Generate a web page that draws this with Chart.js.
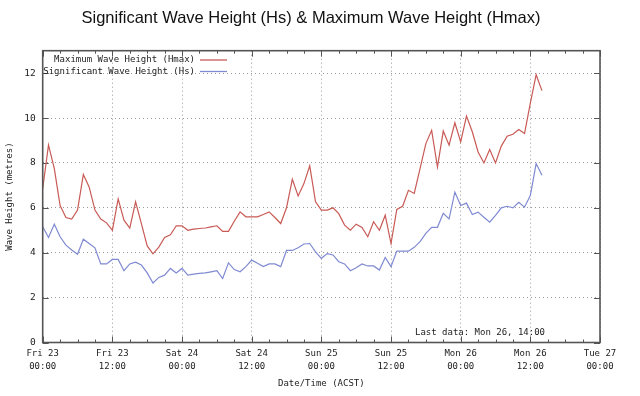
<!DOCTYPE html>
<html>
<head>
<meta charset="utf-8">
<script src="https://cdn.jsdelivr.net/npm/chart.js@4.4.1/dist/chart.umd.min.js"></script>
<style>
  html, body { margin: 0; padding: 0; background: #fff; }
  #wrap { width: 640px; height: 396px; }
</style>
</head>
<body>
<div id="wrap"><canvas id="waves" width="640" height="396"></canvas></div>
<script>
// hourly readings starting Fri 23 00:00 (ACST)
const hmax = [6.85, 8.8, 7.75, 6.1, 5.57, 5.5, 5.9, 7.48, 6.93, 5.9, 5.5, 5.33,
    5.0, 6.4, 5.45, 5.1, 6.27, 5.3, 4.3, 3.95, 4.25, 4.68, 4.8, 5.2,
    5.2, 5.0, 5.05, 5.08, 5.1, 5.15, 5.2, 4.95, 4.95, 5.4, 5.82, 5.6,
    5.6, 5.6, 5.7, 5.82, 5.57, 5.3, 6.0, 7.27, 6.53, 7.08, 7.87, 6.27,
    5.9, 5.9, 6.0, 5.74, 5.23, 5.0, 5.27, 5.13, 4.71, 5.38, 5.0, 5.67,
    4.41, 5.93, 6.07, 6.78, 6.64, 7.75, 8.86, 9.45, 7.82, 9.42, 8.79, 9.79,
    8.94, 10.09, 9.39, 8.49, 8.0, 8.6, 8.0, 8.75, 9.19, 9.28, 9.49, 9.31,
    10.66, 11.93, 11.22];
const hs = [5.16, 4.68, 5.27, 4.71, 4.34, 4.12, 3.93, 4.6, 4.41, 4.22, 3.5, 3.5,
    3.7, 3.7, 3.2, 3.5, 3.58, 3.45, 3.1, 2.65, 2.9, 3.0, 3.3, 3.1,
    3.3, 3.0, 3.05, 3.08, 3.1, 3.15, 3.2, 2.85, 3.55, 3.25, 3.15, 3.38,
    3.67, 3.53, 3.38, 3.5, 3.5, 3.38, 4.1, 4.1, 4.22, 4.39, 4.41, 4.04,
    3.75, 3.96, 3.9, 3.6, 3.5, 3.2, 3.33, 3.5, 3.41, 3.41, 3.23, 3.79,
    3.38, 4.07, 4.07, 4.07, 4.24, 4.49, 4.86, 5.13, 5.13, 5.76, 5.51, 6.7,
    6.1, 6.21, 5.7, 5.81, 5.58, 5.36, 5.66, 6.0, 6.07, 6.0, 6.25, 6.03,
    6.55, 7.97, 7.45];
const xTickLabels = [["Fri 23", "00:00"], ["Fri 23", "12:00"], ["Sat 24", "00:00"],
    ["Sat 24", "12:00"], ["Sun 25", "00:00"], ["Sun 25", "12:00"],
    ["Mon 26", "00:00"], ["Mon 26", "12:00"], ["Tue 27", "00:00"]];
const yTickValues = [0, 2, 4, 6, 8, 10, 12];
const seriesLabels = ["Maximum Wave Height (Hmax)", "Significant Wave Height (Hs)"];
const chartTitle = "Significant Wave Height (Hs) & Maximum Wave Height (Hmax)";
const lastDataText = "Last data: Mon 26, 14:00";

const MONO = "'DejaVu Sans Mono', 'Liberation Mono', monospace";
const RED = "#c85a55";
const BLUE = "#7f8ad2";

// gnuplot style border, inward ticks, title, legend and note
const frame = {
    id: "frame",
    beforeDatasetsDraw(chart) {
        const { ctx, chartArea: a, scales } = chart;
        ctx.save();
        ctx.strokeStyle = "#555";
        ctx.lineWidth = 1;
        // x ticks: major every 12h, minor every 3h
        for (let h = 0; h <= 96; h += 3) {
            const x = Math.round(scales.x.getPixelForValue(h)) + 0.5;
            const len = h % 12 === 0 ? 6 : 3;
            ctx.beginPath();
            ctx.moveTo(x, a.bottom); ctx.lineTo(x, a.bottom - len);
            ctx.moveTo(x, a.top); ctx.lineTo(x, a.top + len);
            ctx.stroke();
        }
        yTickValues.forEach(v => {
            const y = Math.round(scales.y.getPixelForValue(v)) + 0.5;
            ctx.beginPath();
            ctx.moveTo(a.left, y); ctx.lineTo(a.left + 6, y);
            ctx.moveTo(a.right, y); ctx.lineTo(a.right - 6, y);
            ctx.stroke();
        });
        ctx.restore();
    },
    afterDatasetsDraw(chart) {
        const { ctx, chartArea: a } = chart;
        ctx.save();
        ctx.strokeStyle = "#555";
        ctx.lineWidth = 1.6;
        ctx.strokeRect(a.left, a.top, a.right - a.left, a.bottom - a.top);

        ctx.fillStyle = "#111";
        ctx.textAlign = "center";
        ctx.textBaseline = "middle";
        ctx.font = "16.5px 'Liberation Sans', Arial, sans-serif";
        ctx.fillText(chartTitle, 311, 18);

        ctx.font = "9px " + MONO;
        ctx.fillStyle = "#222";
        chart.data.datasets.forEach((ds, i) => {
            const y = 60 + i * 11.5;
            ctx.textAlign = "right";
            ctx.fillText(ds.label, 195, y);
            ctx.strokeStyle = ds.borderColor;
            ctx.lineWidth = 1.3;
            ctx.beginPath();
            ctx.moveTo(200, y); ctx.lineTo(227, y);
            ctx.stroke();
        });
        ctx.textAlign = "left";
        ctx.fillText(lastDataText, 415, 333);
        ctx.restore();
    }
};

const ctx = document.getElementById("waves").getContext("2d");
new Chart(ctx, {
    type: "line",
    data: {
        datasets: [
            {
                label: seriesLabels[0],
                data: hmax.map((v, i) => ({ x: i, y: v })),
                borderColor: RED,
                borderWidth: 1.2,
                pointRadius: 0,
                tension: 0,
                fill: false,
            },
            {
                label: seriesLabels[1],
                data: hs.map((v, i) => ({ x: i, y: v })),
                borderColor: BLUE,
                borderWidth: 1.2,
                pointRadius: 0,
                tension: 0,
                fill: false,
            },
        ],
    },
    options: {
        responsive: false,
        animation: false,
        layout: { padding: { left: 0, right: 40, top: 50.7, bottom: 0 } },
        plugins: {
            legend: { display: false },
            tooltip: { enabled: false },
        },
        scales: {
            x: {
                type: "linear",
                min: 0,
                max: 96,
                afterBuildTicks: (scale) => {
                    scale.ticks = xTickLabels.map((l, i) => ({ value: i * 12 }));
                },
                afterFit: (scale) => { scale.height = 53.5; },
                border: { display: false, dash: [1, 3] },
                grid: {
                    color: "#9a9a9a",
                    lineWidth: 1,
                    drawTicks: false,
                },
                ticks: {
                    autoSkip: false,
                    maxRotation: 0,
                    padding: 5,
                    color: "#222",
                    font: { family: MONO, size: 9, lineHeight: 1.45 },
                    callback: (v, i) => xTickLabels[i],
                },
                title: {
                    display: true,
                    text: "Date/Time (ACST)",
                    color: "#222",
                    font: { family: MONO, size: 9 },
                    padding: { top: 0, bottom: 7 },
                },
            },
            y: {
                min: 0,
                max: 13,
                afterBuildTicks: (scale) => {
                    scale.ticks = yTickValues.map(v => ({ value: v }));
                },
                afterFit: (scale) => { scale.width = 42.7; },
                border: { display: false, dash: [1, 3] },
                grid: {
                    color: "#9a9a9a",
                    lineWidth: 1,
                    drawTicks: false,
                },
                ticks: {
                    padding: 7,
                    color: "#222",
                    font: { family: MONO, size: 9.5 },
                },
                title: {
                    display: true,
                    text: "Wave Height (metres)",
                    color: "#222",
                    font: { family: MONO, size: 9 },
                    padding: { top: 4, bottom: 0 },
                },
            },
        },
    },
    plugins: [frame],
});
</script>
</body>
</html>
